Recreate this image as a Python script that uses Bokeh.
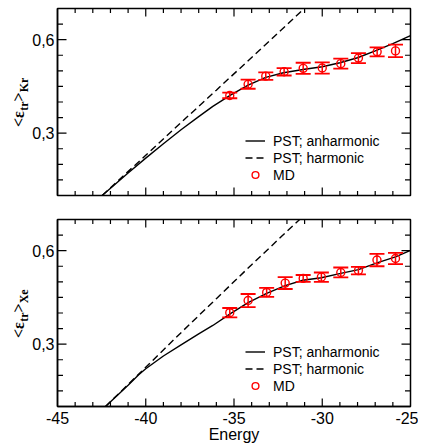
from bokeh.plotting import figure
from bokeh.models import (Range1d, CustomJSTickFormatter, SingleIntervalTicker,
                          ColumnDataSource, Whisker, TeeHead, Label)
from bokeh.layouts import column, row
from bokeh.embed import file_html
from bokeh.resources import INLINE
import math

# ---------------- data ----------------
# Kr panel
kr_md_E = [-35.24, -34.2, -33.2, -32.16, -31.08, -30.0, -28.95, -27.95, -26.89, -25.85]
kr_md_v = [0.421, 0.457, 0.483, 0.497, 0.508, 0.509, 0.523, 0.541, 0.561, 0.564]
kr_md_err = [0.009, 0.0145, 0.012, 0.012, 0.018, 0.018, 0.016, 0.016, 0.0145, 0.02]

kr_anh_E = [-42.47, -41, -40, -39, -38, -37, -36.2, -35.2, -34.2, -33.2, -32.2, -31, -30, -29, -28, -27, -26, -25]
kr_anh_v = [0.100, 0.172, 0.220, 0.266, 0.311, 0.353, 0.386, 0.422, 0.454, 0.479, 0.494, 0.505, 0.513, 0.526, 0.542, 0.564, 0.587, 0.613]

kr_har_E = [-42.47, -40, -38, -36, -34, -32, -30.65]
kr_har_v = [0.100, 0.229, 0.334, 0.438, 0.543, 0.648, 0.720]

# Xe panel
xe_md_E = [-35.24, -34.2, -33.15, -32.1, -31.08, -30.05, -28.95, -27.95, -26.9, -25.85]
xe_md_v = [0.401, 0.440, 0.466, 0.496, 0.511, 0.515, 0.530, 0.536, 0.570, 0.575]
xe_md_err = [0.015, 0.021, 0.0145, 0.019, 0.011, 0.015, 0.016, 0.012, 0.02, 0.018]

xe_anh_E = [-42.28, -41, -40.4, -40, -39, -38, -37, -36.2, -35.2, -34.2, -33.15, -32.1, -31.1, -30.05, -28.95, -27.95, -26.9, -25.85, -25]
xe_anh_v = [0.100, 0.168, 0.202, 0.221, 0.262, 0.298, 0.333, 0.360, 0.398, 0.433, 0.463, 0.488, 0.505, 0.513, 0.527, 0.539, 0.561, 0.580, 0.601]

xe_har_E = [-42.28, -40, -38, -36, -34, -32, -30.9]
xe_har_v = [0.100, 0.226, 0.337, 0.446, 0.555, 0.662, 0.720]

# axes / ticks
x_lim = (-45, -25)
y_lim = (0.1, 0.7)
x_major_ticks = [-40, -35, -30]
x_minor_ticks = [-44, -43, -42, -41, -39, -38, -37, -36, -34, -33, -32, -31, -29, -28, -27, -26]
y_major_ticks = [0.3, 0.6]
y_minor_ticks = [0.15, 0.2, 0.25, 0.35, 0.4, 0.45, 0.5, 0.55, 0.65]

legend_labels = ["PST; anharmonic", "PST; harmonic", "MD"]
x_label = "Energy"
species_labels = ["Kr", "Xe"]

FONT = "Liberation Sans"
SERIF = "Liberation Serif"
RED = "#ff0000"

LAB_W = 29      # width of the strip that holds the rotated y label
MAIN_W = 389


def inner_ticks(p):
    n = len
    for ticks, ln in ((x_major_ticks, 8), (x_minor_ticks, 4.5)):
        p.ray(x=ticks, y=[y_lim[0]] * n(ticks), length=ln, length_units="screen",
              angle=math.pi / 2, line_color="black", line_width=1.2)
        p.ray(x=ticks, y=[y_lim[1]] * n(ticks), length=ln, length_units="screen",
              angle=-math.pi / 2, line_color="black", line_width=1.2)
    for ticks, ln in ((y_major_ticks, 9), (y_minor_ticks, 5.5)):
        p.ray(x=[x_lim[0]] * n(ticks), y=ticks, length=ln, length_units="screen",
              angle=0, line_color="black", line_width=1.2)
        p.ray(x=[x_lim[1]] * n(ticks), y=ticks, length=ln, length_units="screen",
              angle=math.pi, line_color="black", line_width=1.2)


def make_panel(md_E, md_v, md_err, anh_E, anh_v, har_E, har_v, height, top, bottom, show_x):
    p = figure(width=MAIN_W, height=height, output_backend="svg", toolbar_location=None,
               x_range=Range1d(*x_lim), y_range=Range1d(*y_lim),
               min_border_left=28, min_border_right=8,
               min_border_top=top, min_border_bottom=bottom)
    p.xgrid.visible = False
    p.ygrid.visible = False
    p.outline_line_color = "black"
    p.outline_line_width = 1.5
    p.background_fill_color = "white"
    p.border_fill_color = "white"

    p.yaxis.ticker = SingleIntervalTicker(interval=0.3, num_minor_ticks=6)
    p.yaxis.formatter = CustomJSTickFormatter(code="return tick.toFixed(1).replace('.', ',');")
    p.xaxis.ticker = SingleIntervalTicker(interval=5, num_minor_ticks=5)
    p.xaxis.formatter = CustomJSTickFormatter(code="return tick.toFixed(0);")
    for ax in (p.xaxis[0], p.yaxis[0]):
        ax.axis_line_width = 1.5
        ax.major_tick_in = 0
        ax.major_tick_out = 0
        ax.minor_tick_in = 0
        ax.minor_tick_out = 0
        ax.major_label_text_font = FONT
        ax.major_label_text_font_size = "16px"
        ax.major_label_text_color = "black"
    p.yaxis.major_label_standoff = 3
    if show_x:
        p.xaxis.major_label_standoff = 5
        p.xaxis.axis_label = x_label
        p.xaxis.axis_label_text_font = FONT
        p.xaxis.axis_label_text_font_size = "16px"
        p.xaxis.axis_label_text_font_style = "normal"
        p.xaxis.axis_label_text_color = "black"
        p.xaxis.axis_label_standoff = -1
    else:
        p.xaxis.visible = False

    inner_ticks(p)

    p.line(anh_E, anh_v, line_color="black", line_width=1.4, legend_label=legend_labels[0])
    p.line(har_E, har_v, line_color="black", line_width=1.4, line_dash="7 4",
           legend_label=legend_labels[1])

    src = ColumnDataSource(dict(
        x=md_E, y=md_v,
        upper=[v + e for v, e in zip(md_v, md_err)],
        lower=[v - e for v, e in zip(md_v, md_err)],
    ))
    w = Whisker(source=src, base="x", upper="upper", lower="lower", dimension="height",
                line_color=RED, line_width=1.5,
                upper_head=TeeHead(size=15, line_color=RED, line_width=1.8),
                lower_head=TeeHead(size=15, line_color=RED, line_width=1.8))
    w.level = "glyph"
    p.add_layout(w)
    p.scatter("x", "y", source=src, marker="circle", size=8, fill_color=None,
              line_color=RED, line_width=1.4, legend_label=legend_labels[2])

    lg = p.legend[0]
    lg.location = (188, 12)
    lg.padding = 0
    lg.margin = 0
    lg.spacing = 0
    lg.border_line_color = None
    lg.background_fill_alpha = 0
    lg.glyph_width = 20
    lg.glyph_height = 17
    lg.label_height = 17
    lg.label_standoff = 8
    lg.label_text_font = FONT
    lg.label_text_font_size = "14px"
    lg.label_text_color = "black"
    return p


def make_ylabel(species, height, top, bottom):
    q = figure(width=LAB_W, height=height, output_backend="svg", toolbar_location=None,
               x_range=Range1d(0, 1), y_range=Range1d(*y_lim),
               x_axis_type=None, y_axis_type=None,
               min_border_left=0, min_border_right=0,
               min_border_top=top, min_border_bottom=bottom)
    q.xgrid.visible = False
    q.ygrid.visible = False
    q.outline_line_color = None
    q.background_fill_color = "white"
    q.border_fill_color = "white"
    ymid = (y_lim[0] + y_lim[1]) / 2
    pieces = [("<ε", "16px", 18, -25), ("tr", "12px", 23.5, -25 + 16.3),
              (">", "16px", 18, -25 + 16.3 + 9.3), (species, "12px", 23.5, -25 + 16.3 + 9.3 + 9.1)]
    for txt, fs, xs, yo in pieces:
        q.add_layout(Label(x=xs, x_units="screen", y=ymid, y_offset=yo, text=txt,
                           angle=math.pi / 2, text_font=SERIF, text_font_size=fs,
                           text_font_style="bold", text_align="left",
                           text_baseline="alphabetic", text_color="black"))
    return q


H1, T1, B1 = 207, 8, 12
H2, T2, B2 = 239, 12, 40

p1 = make_panel(kr_md_E, kr_md_v, kr_md_err, kr_anh_E, kr_anh_v, kr_har_E, kr_har_v,
                H1, T1, B1, show_x=False)
p2 = make_panel(xe_md_E, xe_md_v, xe_md_err, xe_anh_E, xe_anh_v, xe_har_E, xe_har_v,
                H2, T2, B2, show_x=True)
l1 = make_ylabel(species_labels[0], H1, T1, B1)
l2 = make_ylabel(species_labels[1], H2, T2, B2)

layout = column(row(l1, p1, spacing=0), row(l2, p2, spacing=0), spacing=0)
open("out.html", "w").write(file_html(layout, INLINE))
